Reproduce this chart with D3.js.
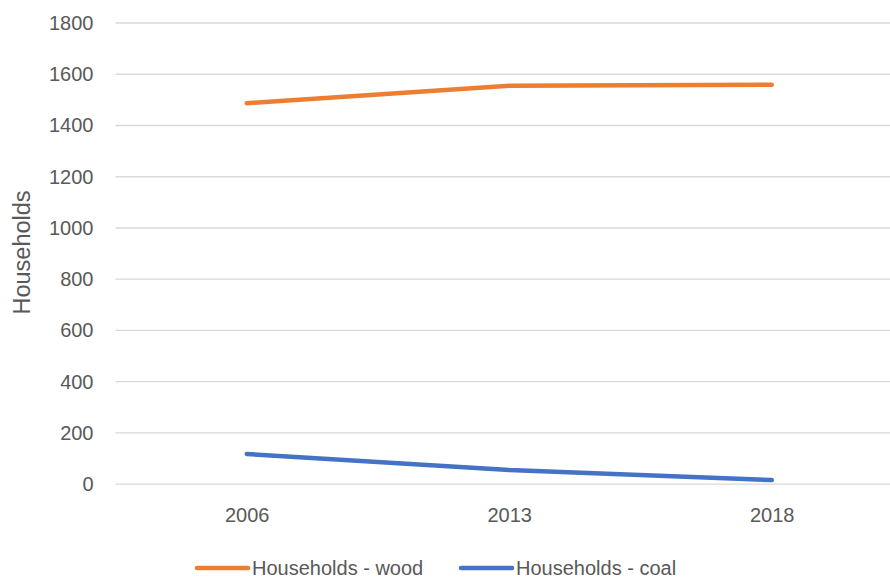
<!DOCTYPE html>
<html>
<head>
<meta charset="utf-8">
<script src="https://cdn.jsdelivr.net/npm/d3@7"></script>
<style>
  body { margin: 0; background: #fff; }
  svg text { font-family: "Liberation Sans", Arial, sans-serif; fill: #595959; }
</style>
</head>
<body>
<div id="chart"></div>
<script>
// values
var years = ["2006", "2013", "2018"];
var wood = [1485, 1553, 1557];
var coal = [116, 53, 14];
var seriesNames = ["Households - wood", "Households - coal"];
var yTicks = [0, 200, 400, 600, 800, 1000, 1200, 1400, 1600, 1800];

var W = 890, H = 579;
var plotLeft = 115.5, plotRight = 903, plotTop = 22.5, plotBottom = 483.7;

var svg = d3.select("#chart").append("svg")
    .attr("width", W)
    .attr("height", H);

var x = d3.scalePoint()
    .domain(years)
    .range([plotLeft, plotRight])
    .padding(0.5);

var y = d3.scaleLinear()
    .domain([0, 1800])
    .range([plotBottom, plotTop]);

// gridlines + y labels
var yAxis = d3.axisLeft(y)
    .tickValues(yTicks)
    .tickFormat(d3.format("d"))
    .tickSize(-(plotRight - plotLeft))
    .tickPadding(22);

var gy = svg.append("g")
    .attr("transform", "translate(" + plotLeft + ",0)")
    .call(yAxis);
gy.select(".domain").remove();
gy.selectAll(".tick line").attr("stroke", "#d9d9d9").attr("stroke-width", 1.3);
gy.selectAll(".tick text").style("font-size", "20px").attr("dy", "0.35em");

// x labels
var xAxis = d3.axisBottom(x).tickSize(0).tickPadding(24);
var gx = svg.append("g")
    .attr("transform", "translate(0," + plotBottom + ")")
    .call(xAxis);
gx.select(".domain").remove();
gx.selectAll(".tick text").style("font-size", "20px");

var line = d3.line()
    .x(function(d, i) { return x(years[i]); })
    .y(function(d) { return y(d); });

var colors = ["#ED7D31", "#4472C4"];

[wood, coal].forEach(function(s, k) {
  svg.append("path")
      .datum(s)
      .attr("d", line)
      .attr("fill", "none")
      .attr("stroke", colors[k])
      .attr("stroke-width", 4.5)
      .attr("stroke-linecap", "round")
      .attr("stroke-linejoin", "round");
});

// y axis title
svg.append("text")
    .attr("transform", "translate(30," + 252.5 + ")rotate(-90)")
    .attr("text-anchor", "middle")
    .style("font-size", "23.5px")
    .text("Households");

// legend
var legendX = [197, 461];
seriesNames.forEach(function(name, k) {
  var g = svg.append("g").attr("transform", "translate(" + legendX[k] + ",568)");
  g.append("line")
      .attr("x1", 0).attr("x2", 51)
      .attr("stroke", colors[k])
      .attr("stroke-width", 4.5)
      .attr("stroke-linecap", "round");
  g.append("text")
      .attr("x", 55)
      .attr("dy", "0.35em")
      .style("font-size", "20px")
      .text(name);
});
</script>
</body>
</html>
